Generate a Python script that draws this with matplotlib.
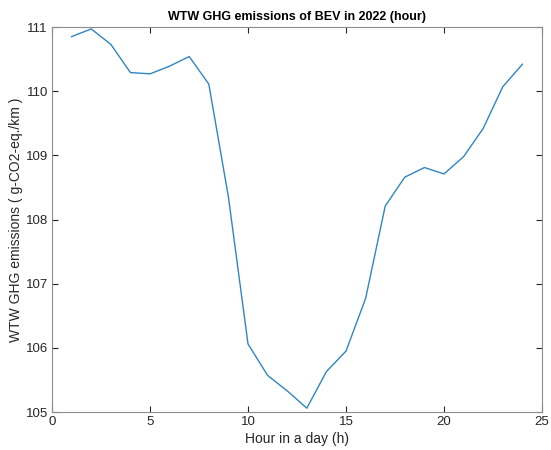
import numpy as np
import matplotlib
matplotlib.use("Agg")
import matplotlib.pyplot as plt

plt.rcParams['font.family'] = ['Liberation Sans', 'DejaVu Sans']

hours = [1, 2, 3, 4, 5, 6, 7, 8, 9, 10, 11, 12,
         13, 14, 15, 16, 17, 18, 19, 20, 21, 22, 23, 24]
emissions = [110.85, 110.97, 110.73, 110.29, 110.27, 110.39, 110.54, 110.11,
             108.35, 106.06, 105.57, 105.33, 105.06, 105.63, 105.95, 106.77,
             108.21, 108.66, 108.81, 108.71, 108.98, 109.42, 110.07, 110.42]
xticks = [0, 5, 10, 15, 20, 25]
yticks = [105, 106, 107, 108, 109, 110, 111]

fig = plt.figure(figsize=(5.51, 4.5), dpi=100)
ax = fig.add_axes([0.0944, 0.0844, 0.8893, 0.8556])

ax.plot(hours, emissions, '-', color='#2f86c0', linewidth=1.0)

ax.set_xlim(0, 25)
ax.set_ylim(105, 111)
ax.set_xticks(xticks)
ax.set_yticks(yticks)

for s in ax.spines.values():
    s.set_color('#8c8c8c')
    s.set_linewidth(0.8)
ax.tick_params(direction='in', top=True, right=True, length=4, width=0.8,
               color='#262626', labelsize=9.5, labelcolor='#262626', pad=3)

ax.set_xlabel('Hour in a day (h)', fontsize=10, color='#262626', labelpad=3)
ax.set_ylabel('WTW GHG emissions ( g-CO2-eq./km )', fontsize=10,
              color='#262626', labelpad=2)
ax.set_title('WTW GHG emissions of BEV in 2022 (hour)', fontsize=9,
             fontweight='bold', pad=5)

fig.savefig('out.png', dpi=100)
